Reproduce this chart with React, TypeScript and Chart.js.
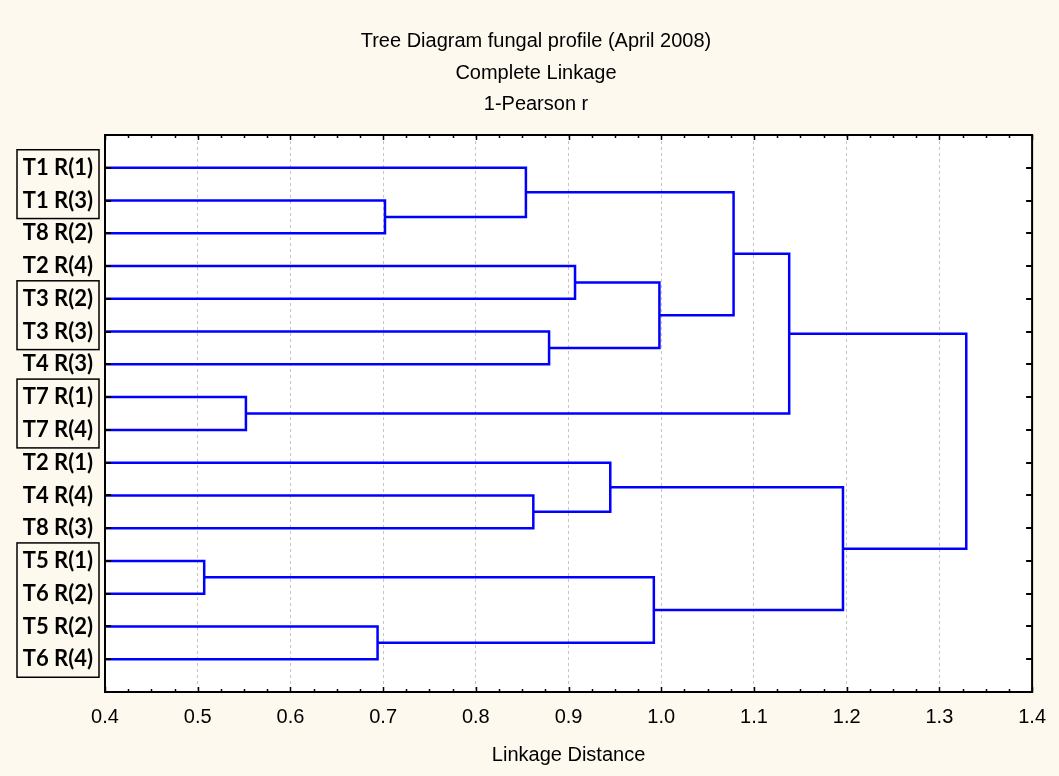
import React, { useEffect, useRef } from "react";
import { Chart, registerables } from "chart.js";

Chart.register(...registerables);

// ---- data ----
const titleLines = [
  "Tree Diagram fungal profile (April 2008)",
  "Complete Linkage",
  "1-Pearson r",
];
const xAxisTitle = "Linkage Distance";
const leafLabels = [
  "T1 R(1)", "T1 R(3)", "T8 R(2)", "T2 R(4)", "T3 R(2)", "T3 R(3)", "T4 R(3)",
  "T7 R(1)", "T7 R(4)", "T2 R(1)", "T4 R(4)", "T8 R(3)", "T5 R(1)", "T6 R(2)",
  "T5 R(2)", "T6 R(4)",
];
// node ids: 0..15 = leaves (display order), 16.. = clusters in merge order
const mergeLeft = [12, 7, 14, 1, 0, 10, 5, 3, 9, 16, 23, 20, 27, 24, 28];
const mergeRight = [13, 8, 15, 2, 19, 11, 6, 4, 21, 18, 22, 26, 17, 25, 29];
const mergeDistance = [
  0.507, 0.552, 0.694, 0.702, 0.854, 0.862, 0.879, 0.907, 0.945, 0.992, 0.998,
  1.078, 1.138, 1.196, 1.329,
];
const xMin = 0.4;
const xMax = 1.4;
const xStep = 0.1;
const xMinorStep = 0.025;
// groups of leaves framed by a box (first leaf, last leaf)
const boxFirst = [0, 4, 7, 12];
const boxLast = [1, 5, 8, 15];

const BLUE = "#0000ff";
const CREAM = "#fdf9ef";
const SANS = "'Liberation Sans', Arial, sans-serif";
const LABEL_FONT = "Lato, 'Open Sans', sans-serif";

function buildDatasets() {
  const n = leafLabels.length;
  const nodeY: number[] = [];
  const nodeH: number[] = [];
  for (let i = 0; i < n; i++) {
    nodeY.push(i + 1);
    nodeH.push(0);
  }
  const sets: any[] = [];
  for (let k = 0; k < mergeDistance.length; k++) {
    const a = mergeLeft[k];
    const b = mergeRight[k];
    const d = mergeDistance[k];
    sets.push({
      data: [
        { x: nodeH[a], y: nodeY[a] },
        { x: d, y: nodeY[a] },
        { x: d, y: nodeY[b] },
        { x: nodeH[b], y: nodeY[b] },
      ],
      showLine: true,
      borderColor: BLUE,
      borderWidth: 2.5,
      pointRadius: 0,
      tension: 0,
      fill: false,
    });
    nodeY.push((nodeY[a] + nodeY[b]) / 2);
    nodeH.push(d);
  }
  return sets;
}

const decorPlugin = {
  id: "decor",
  beforeDraw(chart: any) {
    const { ctx, chartArea: ca } = chart;
    ctx.save();
    ctx.fillStyle = CREAM;
    ctx.fillRect(0, 0, chart.width, chart.height);
    ctx.fillStyle = "#ffffff";
    ctx.fillRect(ca.left, ca.top, ca.right - ca.left, ca.bottom - ca.top);
    ctx.restore();
  },
  afterDraw(chart: any) {
    const { ctx, chartArea: ca } = chart;
    const xs = chart.scales.x;
    const ys = chart.scales.y;
    ctx.save();
    // title lines
    ctx.fillStyle = "#000";
    ctx.font = `20px ${SANS}`;
    ctx.textAlign = "center";
    ctx.textBaseline = "middle";
    titleLines.forEach((t, i) => {
      ctx.fillText(t, 536, 41.5 + i * 31.5);
    });
    ctx.strokeStyle = "#000";
    // inward ticks on top and bottom
    ctx.lineWidth = 1.5;
    const nMinor = Math.round((xMax - xMin) / xMinorStep);
    for (let j = 0; j <= nMinor; j++) {
      const v = xMin + j * xMinorStep;
      const px = Math.round(xs.getPixelForValue(v)) + 0.5;
      const major = j % Math.round(xStep / xMinorStep) === 0;
      const len = major ? 5 : 3;
      ctx.beginPath();
      ctx.moveTo(px, ca.bottom);
      ctx.lineTo(px, ca.bottom - len);
      ctx.moveTo(px, ca.top);
      ctx.lineTo(px, ca.top + len);
      ctx.stroke();
    }
    // inward ticks on left and right at leaves
    ctx.lineWidth = 2;
    for (let i = 0; i < leafLabels.length; i++) {
      const py = Math.round(ys.getPixelForValue(i + 1));
      ctx.beginPath();
      ctx.moveTo(ca.left, py);
      ctx.lineTo(ca.left + 6, py);
      ctx.moveTo(ca.right, py);
      ctx.lineTo(ca.right - 6, py);
      ctx.stroke();
    }
    // frame
    ctx.lineWidth = 2;
    ctx.strokeRect(ca.left, ca.top, ca.right - ca.left, ca.bottom - ca.top);
    // label boxes
    ctx.lineWidth = 1.5;
    const pad = 0.55;
    for (let g = 0; g < boxFirst.length; g++) {
      const top = ys.getPixelForValue(boxFirst[g] + 1 - pad);
      const bottom = ys.getPixelForValue(boxLast[g] + 1 + pad);
      const left = 17;
      const right = ca.left - 6;
      ctx.strokeRect(left, top, right - left, bottom - top);
    }
    ctx.restore();
  },
};

export default function App() {
  const ref = useRef<HTMLCanvasElement | null>(null);
  useEffect(() => {
    document.body.style.margin = "0";
    document.body.style.background = CREAM;
    const canvas = ref.current;
    if (!canvas) return;
    const chart = new Chart(canvas, {
      type: "scatter",
      data: { datasets: buildDatasets() },
      plugins: [decorPlugin],
      options: {
        animation: false,
        responsive: false,
        maintainAspectRatio: false,
        layout: { padding: { left: 0, right: 21, top: 135, bottom: 0 } },
        plugins: {
          legend: { display: false },
          tooltip: { enabled: false },
          title: { display: false },
        },
        scales: {
          x: {
            type: "linear",
            position: "bottom",
            min: xMin,
            max: xMax,
            ticks: {
              stepSize: xStep,
              autoSkip: false,
              maxRotation: 0,
              color: "#000",
              padding: 13,
              font: { family: SANS, size: 20 },
              callback: (v: any) => Number(v).toFixed(1),
            },
            grid: { display: true, color: "#c4c4c4", lineWidth: 1, drawTicks: false },
            border: { display: false, dash: [3, 3] },
            title: {
              display: true,
              text: xAxisTitle,
              color: "#000",
              font: { family: SANS, size: 20, lineHeight: 1.2 },
              padding: { top: 0, bottom: 9 },
            },
            afterFit: (s: any) => {
              s.height = 84;
            },
          },
          y: {
            type: "linear",
            position: "left",
            reverse: true,
            min: 0,
            max: leafLabels.length + 1,
            ticks: {
              stepSize: 1,
              autoSkip: false,
              color: "#000",
              padding: 12,
              font: { family: LABEL_FONT, size: 22, weight: "bold" },
              callback: (v: any) => leafLabels[Math.round(v) - 1] ?? "",
            },
            grid: { display: false, drawTicks: false },
            border: { display: false },
            afterFit: (s: any) => {
              s.width = 105;
            },
          },
        },
      } as any,
    });
    return () => chart.destroy();
  }, []);
  return (
    <canvas
      ref={ref}
      width={1059}
      height={776}
      style={{ display: "block", width: 1059, height: 776 }}
    />
  );
}
